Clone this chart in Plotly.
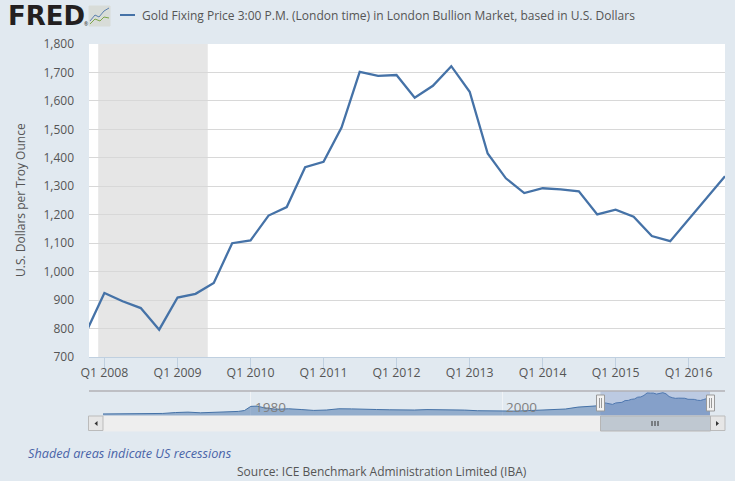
import plotly.graph_objects as go

W, H = 735, 481
BG = '#e1e9f0'
LINE = '#4572a7'

quarters = ['2007-10-01',
            '2008-01-01', '2008-04-01', '2008-07-01', '2008-10-01',
            '2009-01-01', '2009-04-01', '2009-07-01', '2009-10-01',
            '2010-01-01', '2010-04-01', '2010-07-01', '2010-10-01',
            '2011-01-01', '2011-04-01', '2011-07-01', '2011-10-01',
            '2012-01-01', '2012-04-01', '2012-07-01', '2012-10-01',
            '2013-01-01', '2013-04-01', '2013-07-01', '2013-10-01',
            '2014-01-01', '2014-04-01', '2014-07-01', '2014-10-01',
            '2015-01-01', '2015-04-01', '2015-07-01', '2015-10-01',
            '2016-01-01', '2016-04-01', '2016-07-01']
gold = [786,
        925, 896, 872, 796,
        909, 922, 960, 1100,
        1110, 1197, 1227, 1367,
        1386, 1506, 1702, 1688,
        1691, 1611, 1653, 1722,
        1632, 1415, 1328, 1276,
        1293, 1289, 1282, 1201,
        1218, 1193, 1125, 1107,
        1183, 1259, 1335]

# navigator history before the zoomed window, read roughly off the strip
history_dates = ['1968-04-01', '1970-01-01', '1972-01-01', '1973-01-01', '1974-01-01', '1975-01-01',
                 '1976-01-01', '1977-01-01', '1978-01-01', '1979-01-01', '1979-07-01', '1980-01-01',
                 '1980-07-01', '1981-01-01', '1982-01-01', '1983-01-01', '1984-01-01', '1985-01-01',
                 '1986-01-01', '1987-01-01', '1988-01-01', '1989-01-01', '1990-01-01', '1991-01-01',
                 '1992-01-01', '1993-01-01', '1994-01-01', '1995-01-01', '1996-01-01', '1997-01-01',
                 '1998-01-01', '1999-01-01', '2000-01-01', '2001-01-01', '2002-01-01', '2003-01-01',
                 '2004-01-01', '2005-01-01', '2006-01-01', '2007-01-01', '2007-07-01']
history = [40, 36, 50, 80, 150, 185,
           130, 150, 190, 240, 310, 640,
           660, 540, 410, 450, 390, 320,
           350, 450, 440, 390, 390, 370,
           345, 350, 385, 385, 395, 345,
           295, 280, 285, 265, 300, 350,
           400, 430, 580, 650, 680]

y_ticks = [700, 800, 900, 1000, 1100, 1200, 1300, 1400, 1500, 1600, 1700, 1800]
x_tick_dates = ['2008-01-01', '2009-01-01', '2010-01-01', '2011-01-01',
                '2012-01-01', '2013-01-01', '2014-01-01', '2015-01-01', '2016-01-01']
x_tick_labels = ['Q1 2008', 'Q1 2009', 'Q1 2010', 'Q1 2011',
                 'Q1 2012', 'Q1 2013', 'Q1 2014', 'Q1 2015', 'Q1 2016']
recession = ['2007-12-01', '2009-06-01']
view = ['2007-10-16', '2016-07-01']
nav_years = ['1980-01-01', '2000-01-01']
nav_labels = ['1980', '2000']
nav_span = ['1968-04-01', '2016-07-01']
nav_floor = -123
nav_ceil = 1857


def px(x):
    return x / W


def py(y):
    return 1 - y / H


def box(x0, y0, x1, y1, fill, border=None, width=1):
    return dict(type='rect', xref='paper', yref='paper', x0=px(x0), x1=px(x1), y0=py(y0), y1=py(y1),
                fillcolor=fill, line=dict(color=border or fill, width=width), layer='above')


def seg(x0, y0, x1, y1, color, width=1):
    return dict(type='line', xref='paper', yref='paper', x0=px(x0), x1=px(x1), y0=py(y0), y1=py(y1),
                line=dict(color=color, width=width), layer='above')


def label(x, y, text, size=12, color='#555555', anchor='left', family='Open Sans', **kw):
    return dict(xref='paper', yref='paper', x=px(x), y=py(y), text=text, showarrow=False,
                xanchor=anchor, yanchor='middle', font=dict(family=family, size=size, color=color), **kw)


fig = go.Figure()
fig.add_trace(go.Scatter(x=quarters, y=gold, mode='lines', line=dict(color=LINE, width=2.3),
                         name='Gold Fixing Price', cliponaxis=True, xaxis='x', yaxis='y', showlegend=False))

nav_x = history_dates + quarters
nav_y = history + gold
fig.add_trace(go.Scatter(x=nav_x, y=[nav_floor] * len(nav_x), mode='lines', line=dict(width=0),
                         xaxis='x2', yaxis='y2', showlegend=False, hoverinfo='skip'))
fig.add_trace(go.Scatter(x=nav_x, y=nav_y, mode='lines', line=dict(color=LINE, width=1),
                         fill='tonexty', fillcolor='rgba(69,114,167,0.5)',
                         xaxis='x2', yaxis='y2', showlegend=False, hoverinfo='skip'))

shapes = [
    dict(type='rect', xref='x', yref='y domain', x0=recession[0], x1=recession[1], y0=0, y1=1,
         fillcolor='#e6e6e6', line=dict(width=0), layer='below'),
    # plot_bgcolor is shared, so the navigator gets its own backdrop
    dict(type='rect', xref='x2 domain', yref='y2 domain', x0=0, x1=1, y0=0, y1=1,
         fillcolor=BG, line=dict(width=0), layer='below'),
    dict(type='rect', xref='x2', yref='y2 domain', x0=view[0], x1=view[1], y0=0, y1=1,
         fillcolor='rgba(102,133,194,0.3)', line=dict(width=0), layer='above'),
    # navigator frame and scrollbar
    seg(89, 391, 725, 391, '#b2b1b6', 1.5),
    box(103, 416, 710, 431, '#eeeeee'),
    box(88.5, 416, 103, 430.5, '#e6e6e6', '#bbbbbb'),
    box(710.5, 416, 725, 430.5, '#e6e6e6', '#bbbbbb'),
    box(600.5, 416, 710.5, 431, '#bfc8d1', '#b5b5b5'),
    seg(652, 421, 652, 426, '#333333'), seg(655, 421, 655, 426, '#333333'), seg(658, 421, 658, 426, '#333333'),
    dict(type='path', xref='paper', yref='paper', fillcolor='#333333', line=dict(width=0), layer='above',
         path=f'M {px(97.5)} {py(421)} L {px(94.5)} {py(423.5)} L {px(97.5)} {py(426)} Z'),
    dict(type='path', xref='paper', yref='paper', fillcolor='#333333', line=dict(width=0), layer='above',
         path=f'M {px(716)} {py(421)} L {px(719)} {py(423.5)} L {px(716)} {py(426)} Z'),
    # navigator handles
    box(596.5, 395, 604.5, 411, '#f2f2f2', '#999999'),
    seg(599.5, 398, 599.5, 408, '#999999'), seg(601.5, 398, 601.5, 408, '#999999'),
    box(706.5, 395, 714.5, 411, '#f2f2f2', '#999999'),
    seg(709.5, 398, 709.5, 408, '#999999'), seg(711.5, 398, 711.5, 408, '#999999'),
    # legend sample
    seg(120, 15, 135, 15, LINE, 2),
    # logo icon
    box(89, 6, 110, 26, '#d8dcd8', '#d8dcd8'),
    dict(type='path', xref='paper', yref='paper', line=dict(color='#5b7fae', width=1), layer='above',
         path=f'M {px(90)} {py(21)} L {px(95)} {py(15)} L {px(99)} {py(17)} L {px(104)} {py(11)} L {px(109)} {py(8)}'),
    dict(type='path', xref='paper', yref='paper', line=dict(color='#7ea54a', width=1), layer='above',
         path=f'M {px(90)} {py(24)} L {px(95)} {py(19)} L {px(100)} {py(21)} L {px(104)} {py(17)} L {px(109)} {py(18)}'),
]

annotations = [
    label(6, 16, '<b>FRED</b>', size=26, color='#231f20', family='DejaVu Sans'),
    label(82, 24, '®', size=5, color='#231f20'),
    label(140, 15, 'Gold Fixing Price 3:00 P.M. (London time) in London Bullion Market, based in U.S. Dollars', size=12),
    label(26, 453, '<i>Shaded areas indicate US recessions</i>', size=12.7, color='#4a64a8'),
    label(382, 471, 'Source: ICE Benchmark Administration Limited (IBA)', size=12, anchor='center'),
    label(20, 200, 'U.S. Dollars per Troy Ounce', size=12, anchor='center', textangle=-90),
]
for yr, txt in zip(nav_years, nav_labels):
    annotations.append(dict(xref='x2', yref='y2 domain', x=yr, y=0.35, text=txt, showarrow=False,
                            xanchor='left', xshift=2, yanchor='middle',
                            font=dict(family='Open Sans', size=13.5, color='#808080')))

fig.update_layout(
    width=W, height=H, autosize=False,
    margin=dict(l=0, r=0, t=0, b=0, pad=0, autoexpand=False),
    paper_bgcolor=BG, plot_bgcolor='white',
    font=dict(family='Open Sans', size=12, color='#555555'),
    shapes=shapes, annotations=annotations,
    hovermode=False,
    xaxis=dict(domain=[px(89), px(725)], range=view, type='date', tickmode='array',
               tickvals=x_tick_dates, ticktext=x_tick_labels, ticks='outside', ticklen=10, tickwidth=1,
               tickcolor='#c0d0e0', showline=True, linecolor='#c0d0e0', showgrid=False, zeroline=False,
               tickfont=dict(size=12.3), ticklabeloverflow='allow', ticklabelstandoff=-6, anchor='y', automargin=False),
    yaxis=dict(domain=[py(357), py(44)], range=[700, 1800], tickmode='array', tickvals=y_ticks,
               tickformat=',d', gridcolor='#d8d8d8', zeroline=False, showline=False, ticks='',
               ticklabelstandoff=14, tickfont=dict(size=12), anchor='x', automargin=False),
    xaxis2=dict(domain=[px(103), px(710)], range=nav_span, type='date', tickmode='array', tickvals=nav_years,
                showticklabels=False, ticks='', showgrid=True, gridcolor='#f0f3f6', zeroline=False, anchor='y2',
                automargin=False),
    yaxis2=dict(domain=[py(416), py(391)], range=[nav_floor, nav_ceil], visible=False, anchor='x2',
                automargin=False),
)

fig.write_html('out.html', config=dict(displayModeBar=False), post_script="document.body.style.margin='0';")
